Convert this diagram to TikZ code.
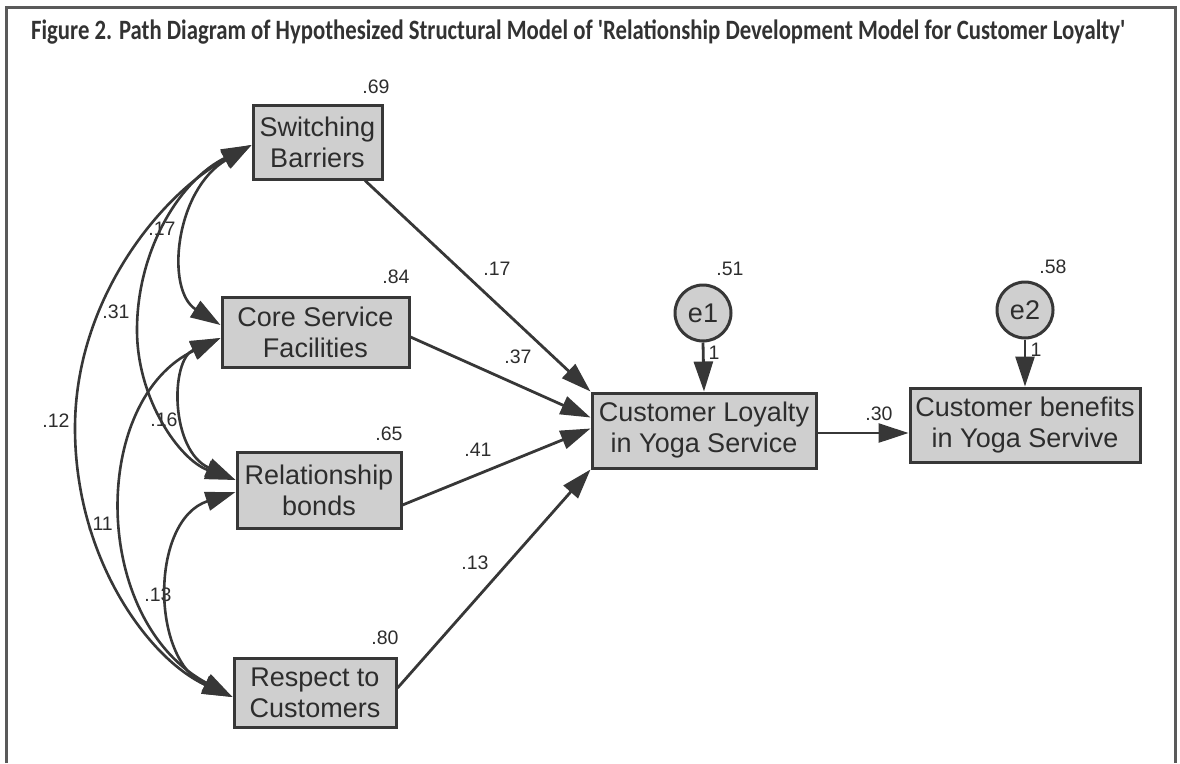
\documentclass[tikz,border=0pt]{standalone}
\usepackage{fontspec}
\usepackage{graphicx}
\setmainfont{Liberation Sans}
\newfontfamily\titlefont{Carlito}
\usetikzlibrary{arrows.meta}
\definecolor{ink}{RGB}{55,55,55}
\definecolor{txt}{RGB}{45,45,45}
\definecolor{boxfill}{RGB}{207,207,207}
\definecolor{framec}{RGB}{90,90,90}
\definecolor{titlec}{RGB}{50,50,50}
\begin{document}
\begin{tikzpicture}[x=1pt,y=-1pt,
  obs/.style={draw=ink, line width=3pt, fill=boxfill, inner sep=0pt, align=center,
    font=\fontsize{27}{31}\selectfont, text=txt},
  err/.style={circle, draw=ink, line width=3pt, fill=boxfill, minimum size=56pt,
    inner sep=0pt, font=\fontsize{27}{31}\selectfont, text=txt},
  num/.style={font=\fontsize{19.5}{19.5}\selectfont, text=txt, inner sep=0pt},
  hd/.tip={Triangle[length=30pt,width=19pt]},
  pathline/.style={draw=ink, line width=2.8pt, -hd},
  cov/.style={draw=ink, line width=2.6pt, hd-hd},
]
\useasboundingbox (0,0) rectangle (1180,763);
% frame
\draw[framec, line width=3pt] (6,763) -- (6,7) -- (1175,7) -- (1175,763);
% title
\node[anchor=base west, inner sep=0pt, text=titlec] (title) at (31,39)
  {\resizebox{1094pt}{\height}{\titlefont\bfseries\fontsize{28}{28}\selectfont Figure 2. Path Diagram of Hypothesized Structural Model of 'Relationship Development Model for Customer Loyalty'}};
% observed variables
\node[obs, minimum width=129pt, minimum height=74pt] (SB) at (317.5,142) {Switching\\Barriers};
\node[obs, minimum width=187pt, minimum height=70pt] (CSF) at (315.5,332) {Core Service\\Facilities};
\node[obs, minimum width=164pt, minimum height=76pt] (RB) at (319,490) {Relationship\\bonds};
\node[obs, minimum width=162pt, minimum height=69pt] (RC) at (315,692.5) {Respect to\\Customers};
\node[obs, minimum width=224pt, minimum height=75pt] (CL) at (704,430.5) {Customer Loyalty\\in Yoga Service};
\node[obs, minimum width=230pt, minimum height=74pt] (CB) at (1025,425) {Customer benefits\\in Yoga Servive};
\node[err] (e1) at (703,313) {e1};
\node[err] (e2) at (1025,310) {e2};
% variances / R2
\node[num] (n69) at (376,87) {.69};
\node[num] (n84) at (396,277) {.84};
\node[num] (n65) at (389,434) {.65};
\node[num] (n80) at (385,638) {.80};
\node[num] (n51) at (730,269) {.51};
\node[num] (n58) at (1053,267) {.58};
\node[num] (w1) at (714,353) {1};
\node[num] (w2) at (1036,350) {1};
% path coefficients
\node[num] (p17) at (497,269) {.17};
\node[num] (p37) at (518,357) {.37};
\node[num] (p41) at (478,450) {.41};
\node[num] (p13) at (475,563) {.13};
\node[num] (p30) at (879,414) {.30};
% covariance labels
\node[num] (c17) at (162,229) {.17};
\node[num] (c31) at (116,312) {.31};
\node[num] (c12) at (56,421) {.12};
\node[num] (c16) at (164,420) {.16};
\node[num] (c11) at (100,524) {.11};
\node[num] (c13) at (158,595) {.13};
% direct paths
\draw[pathline] ([xshift=47.5pt]SB.south) -- (CL.north west);
\draw[pathline] ([yshift=-5pt]CSF.east) -- ([yshift=13pt]CL.west);
\draw[pathline] ([yshift=-15pt]RB.east) -- ([yshift=2pt]CL.west);
\draw[pathline] ([yshift=4.5pt]RC.east) -- (CL.south west);
\draw[pathline] (e1.south) -- (CL.north);
\draw[pathline] (e2.south) -- (CB.north);
\draw[pathline] ([yshift=-2.5pt]CL.east) -- ([yshift=-8pt]CB.west);
% covariances
\coordinate (sbA) at ([yshift=-3pt]SB.west);
\coordinate (csA) at ([yshift=7pt]CSF.west);
\coordinate (csB) at ([yshift=-6pt]CSF.west);
\coordinate (rbA) at ([yshift=10pt]RB.west);
\coordinate (rbB) at ([yshift=-2pt]RB.west);
\coordinate (rcA) at ([yshift=-4.5pt]RC.west);
\draw[cov] (sbA) .. controls (175,190) and (165,290) .. (csA);
\draw[cov] (sbA) .. controls (180,180) and (137,250) .. (137,330) .. controls (137,400) and (180,460) .. (rbA);
\draw[cov] (sbA) .. controls (160,195) and (75,300) .. (75,428) .. controls (75,560) and (150,660) .. (rcA);
\draw[cov] (csB) .. controls (170,360) and (170,450) .. (rbA);
\draw[cov] (csB) .. controls (90,400) and (90,620) .. (rcA);
\draw[cov] (rbB) .. controls (150,520) and (150,660) .. (rcA);
\end{tikzpicture}
\end{document}
